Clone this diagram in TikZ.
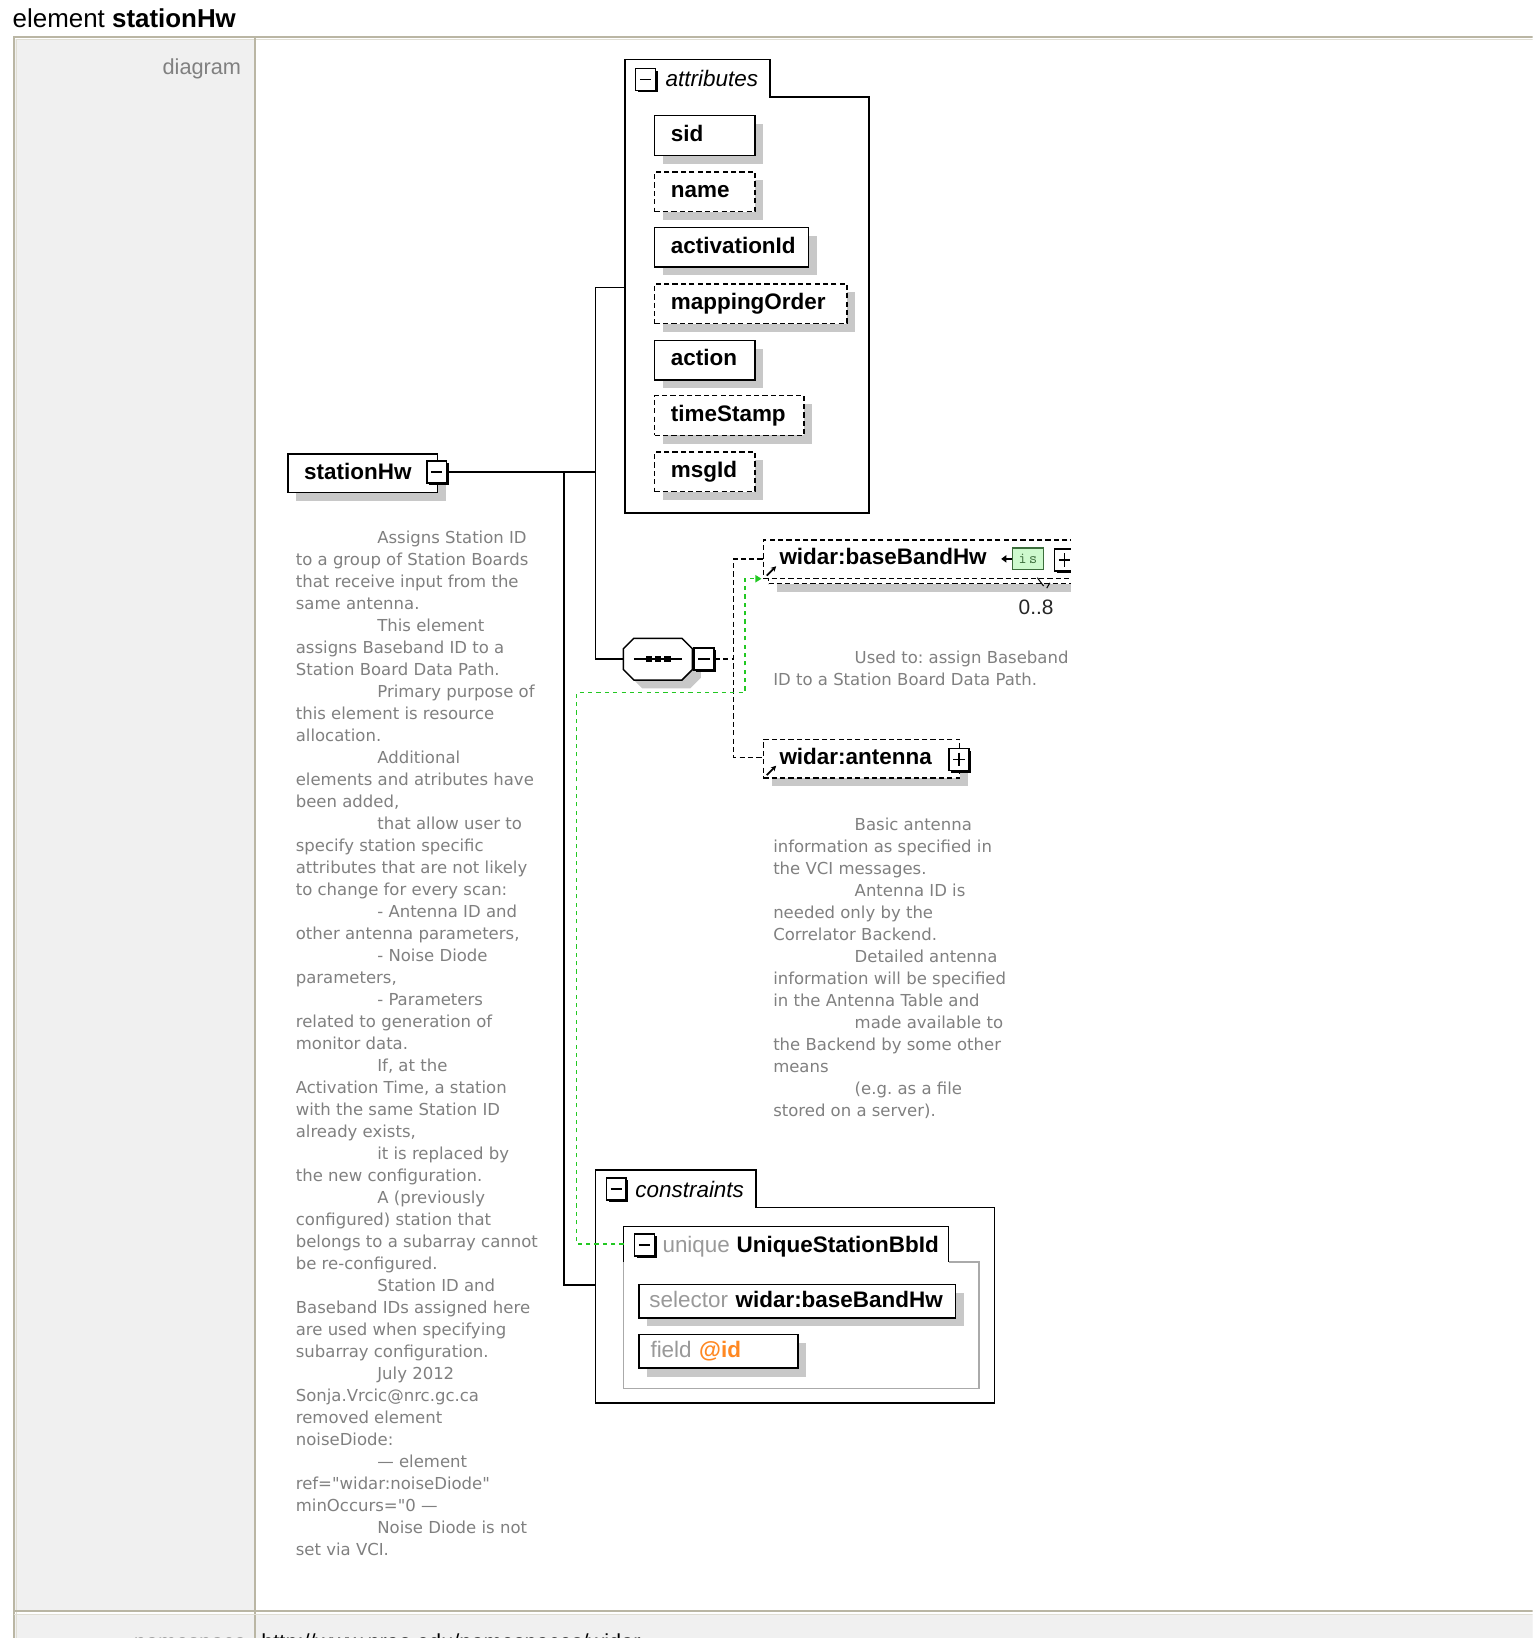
\documentclass[tikz,border=0pt]{standalone}
\usepackage{fontspec}
\setmainfont{Liberation Sans}
\newfontfamily\descfont{DejaVu Sans}
\usetikzlibrary{shadows,arrows.meta}
\frenchspacing

\definecolor{frameline}{RGB}{186,182,164}
\definecolor{framelight}{RGB}{224,222,212}
\definecolor{leftcol}{RGB}{240,240,240}
\definecolor{shadowgray}{RGB}{200,200,200}
\definecolor{keygreen}{RGB}{34,200,34}
\definecolor{isfill}{RGB}{206,250,206}
\definecolor{isline}{RGB}{60,110,60}
\definecolor{atorange}{RGB}{255,136,34}
\definecolor{desctext}{RGB}{128,128,128}
\definecolor{uqline}{RGB}{170,170,170}

\newcommand\lblsize{\fontsize{21.5}{26}\selectfont}
\newcommand\descsize{\descfont\fontsize{15.8}{21}\selectfont}
\newcommand\boxpad{15.5pt}

\begin{document}
\begin{tikzpicture}[x=1pt,y=-1pt,
    conn/.style={line width=1.4pt},
    optconn/.style={line width=1.4pt, dash pattern=on 5pt off 3pt},
    keyline/.style={keygreen, line width=1.4pt, dash pattern=on 4pt off 4pt},
    grpline/.style={line width=1.6pt},
    shadowed/.style={general shadow={fill=shadowgray, shadow xshift=8pt, shadow yshift=-8pt}},
    boxpad/.store in=\boxpad,
    elbox/.style={draw, line width=1.4pt, fill=white, anchor=north west,
      text width=#1, inner xsep=0pt, inner ysep=0pt, minimum height=38pt,
      text height=15.5pt, text depth=4.5pt, align=left, font=\lblsize\bfseries,
      boxpad=15.5pt, execute at begin node={\hspace*{\boxpad}}},
    optbox/.style={elbox=#1, dash pattern=on 5pt off 3pt},
    togbox/.style={draw, line width=1.5pt, fill=white, inner sep=0pt,
      minimum width=19pt, minimum height=21pt,
      general shadow={fill=black, shadow xshift=2pt, shadow yshift=-2pt}},
    minusbox/.style={togbox, path picture={
      \draw[line width=1.5pt] ([xshift=4pt]path picture bounding box.west)
        -- ([xshift=-4pt]path picture bounding box.east);}},
    plusbox/.style={togbox, path picture={
      \draw[line width=1.5pt] ([xshift=4pt]path picture bounding box.west)
        -- ([xshift=-4pt]path picture bounding box.east);
      \draw[line width=1.5pt] ([yshift=-4pt]path picture bounding box.north)
        -- ([yshift=4pt]path picture bounding box.south);}},
    seqbox/.style={inner sep=0pt, minimum width=66pt, minimum height=40pt},
    isbox/.style={draw=isline, fill=isfill, line width=1.2pt, inner sep=0pt,
      minimum width=30pt, minimum height=21pt, text=isline,
      font=\fontsize{15}{15}\ttfamily},
    refmark/.style={line width=1.6pt, -{Stealth[length=5pt,width=5pt]}},
    desc/.style={anchor=base west, inner sep=0pt, font=\descsize, text=desctext},
    plain/.style={anchor=base west, inner sep=0pt}]

  \useasboundingbox (0,0) rectangle (1467,1568);
  \clip (0,0) rectangle (1467,1568);
  \fill[white] (0,0) rectangle (1467,1568);

  % table frame
  \fill[leftcol] (14,37) rectangle (243,1542);
  \fill[leftcol] (14,1546) rectangle (1467,1568);
  \draw[framelight, line width=1.5pt] (1467,38) -- (16,38) -- (16,1568);
  \draw[frameline, line width=2pt] (1467,35) -- (13,35) -- (13,1568);
  \draw[frameline, line width=2pt] (244,36) -- (244,1568);
  \draw[frameline, line width=2pt] (13,1542) -- (1467,1542);
  \draw[framelight, line width=1.5pt] (13,1545.5) -- (1467,1545.5);

  \node[plain, font=\fontsize{24.8}{30}\selectfont] (title) at (12,26) {element \textbf{stationHw}};
  \node[anchor=base east, inner sep=0pt, text=black!50, font=\fontsize{20.8}{25}\selectfont]
    (rowlbl) at (231,71) {diagram};
  \node[anchor=base east, inner sep=0pt, text=black!50, font=\fontsize{20.8}{25}\selectfont]
    (nslbl) at (236,1579) {namespace};
  \node[plain, font=\fontsize{20.8}{25}\selectfont] (nsurl) at (250,1579)
    {http://www.nrao.edu/namespaces/widar};

  % root element
  \node[elbox=143pt, minimum height=37pt, shadowed] (root) at (275,434) {stationHw};
  \node[minusbox] (rootTog) at (418,452) {};

  % attributes group
  \draw[grpline] (598,491) -- (598,57) -- (737,57) -- (737,93) -- (832,93) -- (832,491) -- cycle;
  \node[minusbox] (attTog) at (618,76) {};
  \node[plain, font=\lblsize\itshape] (attTitle) at (637,83) {attributes};
  \foreach \y/\w/\sty/\nm/\txt in {110/96/elbox/sid/sid,
    164/96/optbox/name/name,
    217/147/elbox/actid/activationId,
    271/184/optbox/maporder/mappingOrder,
    325/96/elbox/action/action,
    378/143/optbox/tstamp/timeStamp,
    432/96/optbox/msgid/msgId}
  {
    \node[\sty=\w pt, shadowed] (att-\nm) at (626,\y) {\txt};
  }

  % sequence
  \node[seqbox] (seq) at (630,631) {};
  \filldraw[fill=white, line width=1.4pt, shadowed] (seq.west) -- ++(0,-10) -- ++(10,-10) -- ++(46,0)
    -- ++(10,10) -- ++(0,20) -- ++(-10,10) -- ++(-46,0) -- ++(-10,-10) -- cycle;
  \draw[line width=1.4pt] ([xshift=10pt]seq.west) -- ([xshift=-10pt]seq.east);
  \foreach \dx in {-9,0,9}
    \fill ([xshift=\dx pt]seq.center) +(-3,-3) rectangle +(3,3);
  \node[minusbox] (seqTog) at (674,631) {};

  % connectors from root
  \coordinate (fork1) at (540,452);
  \coordinate (fork2) at (570,452);
  \coordinate (attL) at (598,275);
  \coordinate (conL) at (570,1230);
  \draw[conn] (rootTog.east) -- (fork2);
  \draw[conn] (attL) -| (fork2) |- (seq.west);
  \draw[conn] (fork1) |- (conL);

  % children of the sequence
  \coordinate (seqFork) at (702,631);
  \coordinate (bbL) at (730,535);
  \coordinate (antL) at (730,725);
  \draw[optconn] (seqTog.east) -- (seqFork);
  \draw[optconn] (bbL) -| (seqFork) |- (antL);

  \begin{scope}
    \clip (690,500) rectangle (1025,600);
    \node[optbox=295pt, minimum height=37pt, shadowed] (bbBack) at (735,521) {};
    \node[optbox=295pt, minimum height=37pt] (bbhw) at (730,516) {widar:baseBandHw};
    \node[isbox] (bbIs) at (984,535) {i\,s};
    \draw[line width=1.4pt, -{Triangle[length=5pt,width=7pt]}] (bbIs.west) -- ++(-10,0);
    \node[plusbox] (bbTog) at (1019,536) {};
  \end{scope}
  \draw[refmark] (734,551) -- (743,542);
  \draw[line width=1pt] (993,553) -- (999,561) (1002,563) -- (1005,558);
  \node[plain, text=black!85, font=\fontsize{20}{24}\selectfont] (bbOcc) at (975,588) {0..8};

  \node[optbox=188pt, minimum height=37pt, shadowed] (ant) at (730,707) {widar:antenna};
  \node[plusbox] (antTog) at (918,727) {};
  \draw[refmark] (734,742) -- (743,733);

  % descriptions
  \foreach \dx/\ln [count=\i from 0] in {78/{Used to: assign Baseband},
    0/{ID to a Station Board Data Path.}}
    \node[desc] (bbDesc-\i) at (740+\dx, 635+21.07*\i) {\ln};

  \foreach \dx/\ln [count=\i from 0] in {78/{Basic antenna},
    0/{information as specified in}, 0/{the VCI messages.},
    78/{Antenna ID is}, 0/{needed only by the}, 0/{Correlator Backend.},
    78/{Detailed antenna}, 0/{information will be specified},
    0/{in the Antenna Table and}, 78/{made available to},
    0/{the Backend by some other}, 0/{means},
    78/{(e.g. as a file}, 0/{stored on a server).}}
    \node[desc] (antDesc-\i) at (740+\dx, 795+21.07*\i) {\ln};

  \foreach \dx/\ln [count=\i from 0] in {78/{Assigns Station ID},
    0/{to a group of Station Boards}, 0/{that receive input from the},
    0/{same antenna.}, 78/{This element}, 0/{assigns Baseband ID to a},
    0/{Station Board Data Path.}, 78/{Primary purpose of},
    0/{this element is resource}, 0/{allocation.}, 78/{Additional},
    0/{elements and atributes have}, 0/{been added,},
    78/{that allow user to}, 0/{specify station specific},
    0/{attributes that are not likely}, 0/{to change for every scan:},
    78/{- Antenna ID and}, 0/{other antenna parameters,},
    78/{- Noise Diode}, 0/{parameters,}, 78/{- Parameters},
    0/{related to generation of}, 0/{monitor data.}, 78/{If, at the},
    0/{Activation Time, a station}, 0/{with the same Station ID},
    0/{already exists,}, 78/{it is replaced by}, 0/{the new configuration.},
    78/{A (previously}, 0/{configured) station that},
    0/{belongs to a subarray cannot}, 0/{be re-configured.},
    78/{Station ID and}, 0/{Baseband IDs assigned here},
    0/{are used when specifying}, 0/{subarray configuration.},
    78/{July 2012}, 0/{Sonja.Vrcic@nrc.gc.ca}, 0/{removed element},
    0/{noiseDiode:}, 78/{— element}, 0/{ref="widar:noiseDiode"},
    0/{minOccurs="0 —}, 78/{Noise Diode is not}, 0/{set via VCI.}}
    \node[desc] (rootDesc-\i) at (283+\dx, 520+21.07*\i) {\ln};

  % constraints group
  \draw[grpline] (570,1343) -- (570,1120) -- (724,1120) -- (724,1156) -- (952,1156) -- (952,1343) -- cycle;
  \node[minusbox] (conTog) at (590,1138) {};
  \node[plain, font=\lblsize\itshape] (conTitle) at (608,1146) {constraints};

  \draw[uqline, line width=1.6pt] (908,1208) -- (937,1208) -- (937,1329) -- (597,1329) -- (597,1208);
  \draw[grpline] (597,1208) -- (597,1174) -- (908,1174) -- (908,1208);
  \node[minusbox] (uqTog) at (617,1192) {};
  \node[plain, text=black!40, font=\lblsize] (uqKind) at (634,1199) {unique};
  \node[plain, font=\lblsize\bfseries] (uqName) at (705,1199) {UniqueStationBbId};

  \node[elbox=303pt, minimum height=32pt, shadowed, boxpad=10pt]
    (sel) at (611,1229) {\textcolor{black!40}{\mdseries selector} widar:baseBandHw};
  \node[elbox=152pt, minimum height=32pt, shadowed, boxpad=11pt]
    (fld) at (611,1277) {\textcolor{black!40}{\mdseries field} \textcolor{atorange}{@id}};

  % key reference
  \coordinate (uqL) at (597,1191);
  \coordinate (bbKey) at (729,554);
  \draw[keyline, -{Triangle[length=6pt,width=7pt]}] (uqL) -- (552,1191) -- (552,663)
    -- (713,663) -- (713,554) -- (bbKey);
\end{tikzpicture}
\end{document}
